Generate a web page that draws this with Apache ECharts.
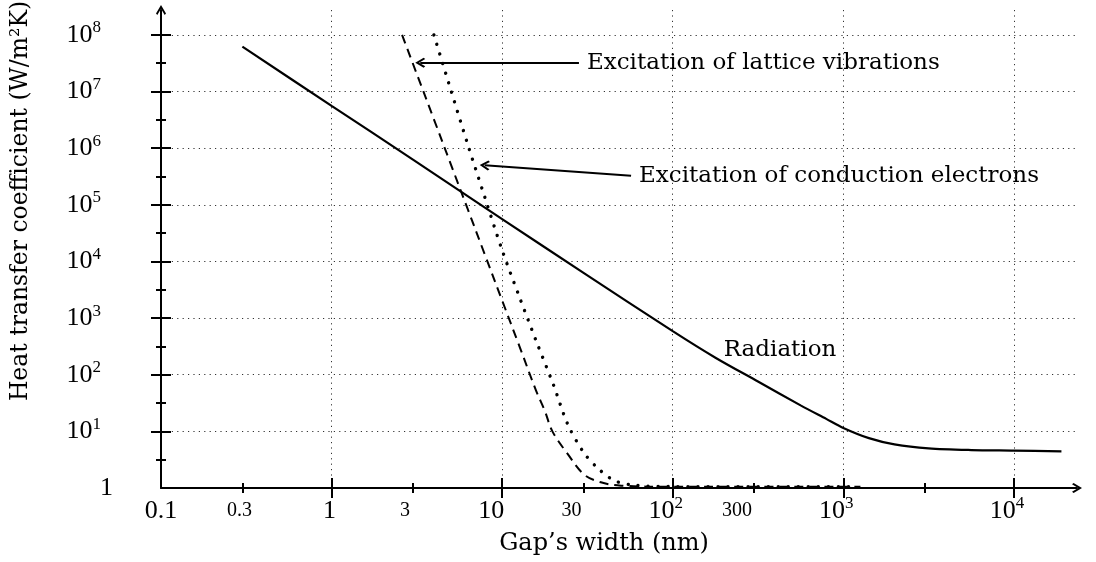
<!DOCTYPE html>
<html>
<head>
<meta charset="utf-8">
<script src="https://cdn.jsdelivr.net/npm/echarts@6/dist/echarts.min.js"></script>
<style>html,body{margin:0;padding:0;background:#fff}#c{width:1096px;height:562px}</style>
</head>
<body>
<div id="c"></div>
<script>
// ---------------- data (gap width in nm, heat transfer coefficient in W/m²K) ----------------
const radiationX = [0.3, 1, 3, 10, 30, 100, 178, 316, 562, 794, 1000, 1413, 1995, 3162, 5623, 10000, 19000];
const radiationY = [6.2e7, 5.6e6, 6.3e5, 5.6e4, 6.3e3, 589, 200, 75.9, 28.8, 16.6, 11.5, 7.59, 5.89, 5.01, 4.68, 4.57, 4.43];

const latticeX = [2.59, 3.16, 3.98, 5.01, 6.31, 7.94, 10, 12.6, 15.8, 17.8, 19.7, 24.2, 30.3, 37.9, 49.8, 100, 1260];
const latticeY = [1e8, 2.04e7, 3.24e6, 5.13e5, 8.13e4, 1.29e4, 2040, 324, 52.5, 22.9, 10, 4.0, 1.72, 1.26, 1.1, 1.05, 1.05];

const electronX = [3.98, 5.01, 6.31, 7.94, 10, 12.6, 15.8, 20, 24.2, 30, 36.3, 45.5, 59.6, 100, 1120];
const electronY = [1e8, 1.05e7, 1.12e6, 1.32e5, 1.58e4, 2400, 400, 66, 13.5, 4.27, 2.25, 1.35, 1.12, 1.06, 1.05];

const latticeArrowFrom = [28.2, 3.24e7];
const latticeArrowTo = [3.31, 3.24e7];
const electronArrowFrom = [57, 3.26e5];
const electronArrowTo = [7.9, 5.0e5];
const radiationLabelAt = [147, 275];

const latticeText = 'Excitation of lattice vibrations';
const electronText = 'Excitation of conduction electrons';
const radiationText = 'Radiation';
const xName = 'Gap’s width (nm)';
const yName = 'Heat transfer coefficient (W/m²K)';

const xLabelVals = [0.1, 0.3, 1, 3, 10, 30, 100, 300, 1000, 10000];
const xLabelText = ['0.1', '0.3', '1', '3', '10', '30', '10^2', '300', '10^3', '10^4'];
const xMajorTicks = [1, 10, 100, 1000, 10000];
const xMinorTicks = [0.3, 3, 30, 300, 3000];
const xMin = 0.1;

const yLabelVals = [1, 10, 100, 1e3, 1e4, 1e5, 1e6, 1e7, 1e8];
const yLabelText = ['1', '10^1', '10^2', '10^3', '10^4', '10^5', '10^6', '10^7', '10^8'];
const yMajorTicks = [10, 100, 1e3, 1e4, 1e5, 1e6, 1e7, 1e8];
const yMinorTicks = [3.1623, 31.623, 316.23, 3162.3, 31623, 316230, 3162300, 31623000];
const yMin = 1;

// ---------------- layout / style ----------------
const X_MAX_LOG = 4.37;
const Y_MAX_LOG = 8.44;
const xLabelNudge = [0, -3, -2, -8, -11, -12, -7, -17, -7, -7];
const numFont = '"Liberation Serif", "Times New Roman", serif';
const txtFont = '"DejaVu Serif", serif';
const black = '#000';
const chevron = 'path://M5,0 L10,8.4 L8.7,10 L5,3.8 L1.3,10 L0,8.4 Z';
const annotSize = 23;

const L = v => Math.round(Math.log10(v) * 1e4) / 1e4;
const toPts = (xs, ys) => xs.map((x, i) => [L(x), L(ys[i])]);

// rich styles for x labels
const xRich = { m: { fontFamily: numFont, fontSize: 26, lineHeight: 30, color: black } };
xLabelVals.forEach((v, i) => {
  const pad = -2 * xLabelNudge[i];
  xRich['a' + i] = { fontFamily: numFont, fontSize: 26, lineHeight: 30, color: black, padding: [0, pad, 0, 0] };
  xRich['b' + i] = { fontFamily: numFont, fontSize: 20, lineHeight: 30, color: black, padding: [0, pad, 0, 0] };
  xRich['s' + i] = { fontFamily: numFont, fontSize: 17, lineHeight: 16, color: black, padding: [0, pad, 14, 0] };
});
function xFmt(v) {
  const i = xLabelVals.findIndex(t => Math.abs(L(t) - v) < 1e-3);
  if (i < 0) return '';
  const t = xLabelText[i];
  if (t.indexOf('^') >= 0) {
    const p = t.split('^');
    return '{m|' + p[0] + '}{s' + i + '|' + p[1] + '}';
  }
  const major = Math.abs(L(xLabelVals[i]) - Math.round(L(xLabelVals[i]))) < 1e-6;
  return '{' + (major ? 'a' : 'b') + i + '|' + t + '}';
}
const yRich = {
  m: { fontFamily: numFont, fontSize: 26, lineHeight: 30, color: black },
  s: { fontFamily: numFont, fontSize: 17, lineHeight: 16, color: black, padding: [0, 12, 14, 0] }
};
function yFmt(v) {
  const i = yLabelVals.findIndex(t => Math.abs(L(t) - v) < 1e-3);
  if (i < 0) return '';
  const t = yLabelText[i];
  if (t.indexOf('^') >= 0) {
    const p = t.split('^');
    return '{m|' + p[0] + '}{s|' + p[1] + '}';
  }
  return '{m|' + t + '}';
}

const gridLine = { show: true, lineStyle: { color: '#333', width: 1, type: [1.2, 4.2] } };

function tickAxis(kind, values, inside, len) {
  return {
    type: 'value', gridIndex: 0,
    position: kind === 'x' ? 'bottom' : 'left',
    min: kind === 'x' ? L(xMin) : L(yMin),
    max: kind === 'x' ? X_MAX_LOG : Y_MAX_LOG,
    interval: 0.5,
    axisLine: { show: false, onZero: false },
    axisLabel: { show: false },
    splitLine: { show: false },
    axisTick: { show: true, inside: inside, length: len, customValues: values.map(L), lineStyle: { color: black, width: 2 } }
  };
}

const option = {
  animation: false,
  backgroundColor: '#fff',
  grid: { left: 161, right: 19, top: 10, bottom: 74, containLabel: false, outerBoundsMode: 'none' },
  xAxis: [
    {
      type: 'value', gridIndex: 0, position: 'bottom',
      min: L(xMin), max: X_MAX_LOG, interval: 0.5,
      name: xName, nameLocation: 'middle', nameGap: 40,
      nameTextStyle: { fontFamily: txtFont, fontSize: 24, color: black, padding: [0, 30, 0, 0] },
      axisLine: { show: true, onZero: false, lineStyle: { color: black, width: 2 }, symbol: ['none', chevron], symbolSize: [10, 10] },
      axisTick: { show: true, inside: false, length: 10, customValues: xMajorTicks.map(L), lineStyle: { color: black, width: 2 } },
      axisLabel: { show: true, customValues: xLabelVals.map(L), margin: 8, formatter: xFmt, rich: xRich, color: black, fontFamily: numFont, fontSize: 26, hideOverlap: false },
      splitLine: gridLine
    },
    tickAxis('x', xMajorTicks, true, 10),
    tickAxis('x', xMinorTicks, false, 5),
    tickAxis('x', xMinorTicks, true, 5)
  ],
  yAxis: [
    {
      type: 'value', gridIndex: 0, position: 'left',
      min: L(yMin), max: Y_MAX_LOG, interval: 0.5,
      name: yName, nameLocation: 'middle', nameRotate: 90, nameGap: 128,
      nameTextStyle: { fontFamily: txtFont, fontSize: 23.5, color: black, padding: [0, 0, 0, 96] },
      axisLine: { show: true, onZero: false, lineStyle: { color: black, width: 2 }, symbol: ['none', chevron], symbolSize: [10, 10] },
      axisTick: { show: true, inside: false, length: 10, customValues: yMajorTicks.map(L), lineStyle: { color: black, width: 2 } },
      axisLabel: { show: true, customValues: yLabelVals.map(L), margin: 48, formatter: yFmt, rich: yRich, color: black, fontFamily: numFont, fontSize: 26, hideOverlap: false },
      splitLine: gridLine
    },
    tickAxis('y', yMajorTicks, true, 10),
    tickAxis('y', yMinorTicks, false, 5),
    tickAxis('y', yMinorTicks, true, 5)
  ],
  series: [
    {
      type: 'line', name: 'Radiation', xAxisIndex: 0, yAxisIndex: 0, silent: true,
      data: toPts(radiationX, radiationY),
      symbol: 'none', showSymbol: false, smooth: 0.3,
      lineStyle: { color: black, width: 2.2 },
      markPoint: {
        silent: true, symbol: 'circle', symbolSize: 1, itemStyle: { color: 'rgba(0,0,0,0)' },
        label: { show: true, position: 'right', distance: 22, formatter: radiationText, fontFamily: txtFont, fontSize: annotSize, color: black },
        data: [{ coord: [L(radiationLabelAt[0]), L(radiationLabelAt[1])] }]
      }
    },
    {
      type: 'line', name: 'Lattice', xAxisIndex: 0, yAxisIndex: 0, silent: true,
      data: toPts(latticeX, latticeY),
      symbol: 'none', showSymbol: false, smooth: 0.35,
      lineStyle: { color: black, width: 2, type: [9, 6] },
      markLine: {
        silent: true, symbol: ['none', chevron], symbolSize: [10, 10],
        lineStyle: { type: 'solid', color: black, width: 2 },
        label: { show: true, position: 'start', distance: 8, formatter: latticeText, fontFamily: txtFont, fontSize: annotSize, color: black },
        data: [[{ coord: [L(latticeArrowFrom[0]), L(latticeArrowFrom[1])] }, { coord: [L(latticeArrowTo[0]), L(latticeArrowTo[1])] }]]
      }
    },
    {
      type: 'line', name: 'Electrons', xAxisIndex: 0, yAxisIndex: 0, silent: true,
      data: toPts(electronX, electronY),
      symbol: 'none', showSymbol: false, smooth: 0.3,
      lineStyle: { color: black, width: 3.4, type: [0.01, 10], cap: 'round' },
      markLine: {
        silent: true, symbol: ['none', chevron], symbolSize: [10, 10],
        lineStyle: { type: 'solid', color: black, width: 2, cap: 'butt' },
        label: { show: true, position: 'start', distance: 8, formatter: electronText, fontFamily: txtFont, fontSize: annotSize, color: black },
        data: [[{ coord: [L(electronArrowFrom[0]), L(electronArrowFrom[1])] }, { coord: [L(electronArrowTo[0]), L(electronArrowTo[1])] }]]
      }
    }
  ]
};

const chart = echarts.init(document.getElementById('c'), null, { renderer: 'canvas' });
chart.setOption(option);
</script>
</body>
</html>
